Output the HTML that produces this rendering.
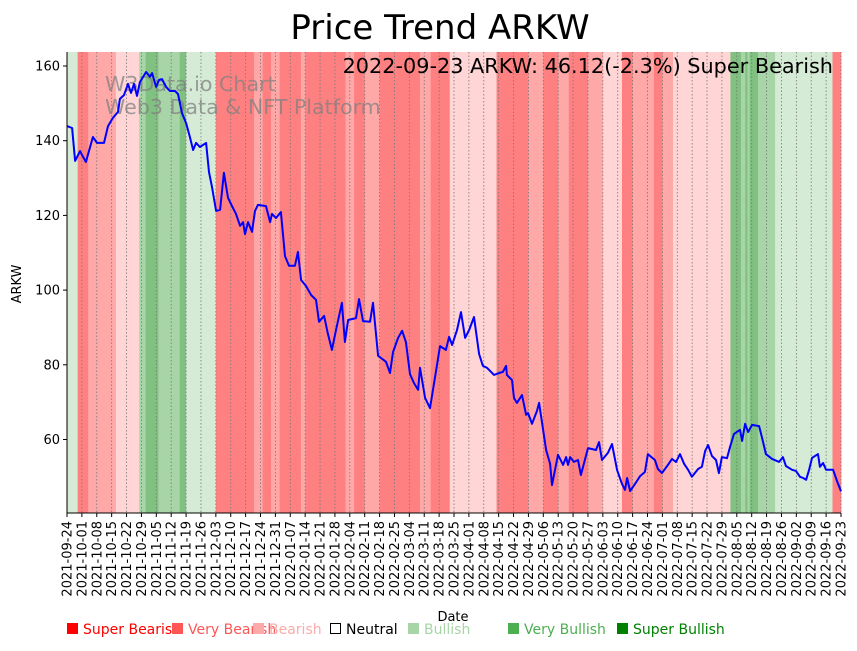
<!DOCTYPE html>
<html><head><meta charset="utf-8"><style>
body{margin:0;background:#fff;font-family:"Liberation Sans","DejaVu Sans",sans-serif}
svg text{font-family:"DejaVu Sans","Liberation Sans",sans-serif}
</style></head><body>
<svg id="chart" width="857" height="646" xmlns="http://www.w3.org/2000/svg">
<text x="440" y="39" font-size="34" text-anchor="middle">Price Trend ARKW</text>
<g id="bands"></g>
<g id="grid"></g>
<g fill="#808080" fill-opacity="0.75" font-size="20.6">
<text x="105" y="91">W3Data.io Chart</text><text x="105" y="114">Web3 Data &amp; NFT Platform</text></g>
<text x="833" y="73" font-size="20.8" text-anchor="end">2022-09-23 ARKW: 46.12(-2.3%) Super Bearish</text>
<path id="line" fill="none" stroke="#0000ff" stroke-width="2" stroke-linejoin="round"/>
<g id="yaxis"></g>
<g id="xaxis"></g>
<text transform="translate(21,284) rotate(-90)" font-size="13" text-anchor="middle">ARKW</text>
<text x="453" y="621" font-size="13" text-anchor="middle">Date</text>
<g id="legend"></g>
</svg>
<script>
const days=[0,2.4,3.8,6.1,8.9,12.2,14.1,17.4,19.3,21.6,24,24.9,26.8,28.7,30.1,31.5,32.9,34.3,37.2,39,40,41.9,43.3,44.7,46.6,48.4,50.8,52.2,54.1,56,57.8,59.3,60.7,62.5,65.4,66.8,68.2,70.1,72,73.8,75.7,77.6,79.5,81.4,82.8,83.7,85.1,87,88.4,89.8,93.6,95.5,96.4,98.3,100.6,102.5,104.4,107.2,108.6,110.1,112.4,114.8,117.1,118.5,120.9,122.7,124.6,126.5,129.3,130.7,132.2,135.9,137.3,139.2,142.5,143.9,146.3,150,151.9,153.3,155.7,157.6,159.4,161.3,163.2,165.1,166,168.4,170.7,173.5,175.4,178.2,179.7,181.1,183.4,185.3,187.2,189.1,191.4,193.8,195.6,197.5,200.8,203.2,205,206.5,206.9,209.3,210.2,211.6,214,215.9,216.8,218.7,221,222,223.9,225.3,227.2,228.1,230.9,233.3,234.7,235.6,236.6,238.4,240.3,241.7,245,248.8,250.2,251.6,254.4,256.3,258.7,261,262.4,263.4,264.8,267.1,269.5,271.8,273.2,276.5,277.9,279.8,282.6,284.5,286.4,288.3,290.2,292.1,293.9,296.8,298.6,300.1,301.5,303.3,305.2,306.6,308,310.4,311.8,313.7,316.5,317.5,318.9,320.3,322.2,325.5,326.9,328.7,331.6,334.9,336.7,338.1,341,342.8,344.7,346.2,347.6,349,350.4,353.2,354.1,355.6,357,360.3,362.1,364];
const prices=[143.9,143.4,134.6,137.2,134.3,141,139.4,139.4,143.9,146.1,147.7,151.2,152.2,155.2,152.8,155.2,152,155.7,158.4,157.1,158.1,154.4,156.3,156.5,154.4,153.3,153.3,152.5,147.4,144.7,141,137.5,139.4,138.3,139.4,131.6,127.6,121.2,121.5,131.4,124.7,122.5,120.4,117.2,118.2,115,118.2,115.6,121.2,122.8,122.5,118.2,120.4,119.3,120.9,109.1,106.5,106.5,110.2,102.7,101.1,98.7,97.4,91.5,93.1,88.3,84,89.3,96.6,86.1,92,92.5,97.6,91.7,91.5,96.6,82.4,80.8,77.8,83.4,87.2,89.1,86.1,77.5,75.1,73.3,79.2,71.1,68.4,78.1,85,84,87.5,85.3,89.3,94.1,87.2,89.3,92.8,82.9,79.7,79.2,77.3,77.8,78.1,79.7,77.3,75.9,71.1,69.8,71.9,66.6,67.1,64.2,67.6,69.8,62.6,57.2,53.5,47.8,55.9,53.2,55.3,53.2,55.3,54,54.5,50.5,57.7,57.2,59.3,54.5,56.4,58.8,51.8,48.1,46.5,49.7,46.2,48.1,50.2,51.3,56.1,54.5,52.1,51,53.2,54.8,54,56.1,53.5,51.9,50,52.1,52.7,56.9,58.5,55.6,54.5,51,55.3,55,58,61.5,62.6,59.6,64.2,62,63.9,63.6,60.4,56.1,54.8,54,55.3,52.9,51.9,51.6,50,49.7,49.2,51.9,55.1,56.1,52.7,53.7,51.9,51.9,48.9,46.1];
const bandStarts=[0,5,10,23,34,37,43,53,56,70,88,92,96,100,110,112,131,135,140,147,166,171,180,202,217,224,231,236,245,252,261,266,276,280,285,312,317,319,320,321,325,333,360];
const bandLevels=[1,-3,-2,-1,2,3,2,3,1,-3,-2,-3,-2,-3,-2,-3,-2,-3,-2,-3,-2,-3,-1,-3,-2,-3,-2,-3,-2,-1,-3,-2,-3,-2,-1,3,2,3,2,3,2,1,-3];
const yTicks=[60,80,100,120,140,160];
const legendLabels=["Super Bearish","Very Bearish","Bearish","Neutral","Bullish","Very Bullish","Super Bullish"];
const totalDays=364, baseDate=new Date(Date.UTC(2021,8,24));
const X0=67,X1=841,Y0=52,Y1=513;
const x=d=>X0+d*(X1-X0)/totalDays;
const y=v=>66+(160-v)*3.735;
const NS="http://www.w3.org/2000/svg";
function mk(tag,attrs,parent){const e=document.createElementNS(NS,tag);for(const k in attrs)e.setAttribute(k,attrs[k]);parent.appendChild(e);return e;}
const bandColor={"-3":"#ff8080","-2":"#ffa8a8","-1":"#ffd5d5","0":"#ffffff","1":"#d5ebd5","2":"#a8d5a8","3":"#80c080"};
const bands=document.getElementById('bands');
bandStarts.forEach((s,i)=>{const e=i+1<bandStarts.length?bandStarts[i+1]:totalDays;
 const r=mk('rect',{x:x(s),y:Y0,width:x(e)-x(s)+0.3,height:Y1-Y0,fill:bandColor[bandLevels[i]]},bands);
 
 });
const grid=document.getElementById('grid'),xa=document.getElementById('xaxis');
for(let d=0;d<=totalDays;d+=7){const px=x(d);
 const g=mk('line',{x1:px,x2:px,y1:Y0,y2:Y1,stroke:'#777',"stroke-width":0.8,"stroke-dasharray":"1.5,2"},grid);
 
 
 mk('line',{x1:px,x2:px,y1:Y1,y2:Y1+4,stroke:'#000'},xa);
 const dt=new Date(baseDate.getTime()+d*86400000);
 const lab=dt.toISOString().slice(0,10);
 const t=mk('text',{transform:`translate(${px+4.5},${Y1+8}) rotate(-90)`,"font-size":13,"text-anchor":"end"},xa);
 t.textContent=lab;
 
 }
mk('line',{x1:X0,x2:X1,y1:Y1,y2:Y1,stroke:'#000'},xa);
const ya=document.getElementById('yaxis');
mk('line',{x1:X0,x2:X0,y1:Y0,y2:Y1,stroke:'#000'},ya);
yTicks.forEach(v=>{mk('line',{x1:X0-4,x2:X0,y1:y(v),y2:y(v),stroke:'#000'},ya);
 const t=mk('text',{x:X0-7,y:y(v)+4.5,"font-size":13,"text-anchor":"end"},ya);t.textContent=v;
 
 });
document.getElementById('line').setAttribute('d',days.map((d,i)=>(i?'L':'M')+x(d).toFixed(1)+','+y(prices[i]).toFixed(1)).join(''));
const lg=document.getElementById('legend');
const lgX=[67,172,253,330,408,508,617];
const lgC=["#ff0000","#ff5555","#ffaaaa","#000000","#a8d5a8","#4caf50","#008000"];
legendLabels.forEach((l,i)=>{const g=mk('g',{},lg);
 
 
 if(i===3)mk('rect',{x:lgX[i]+0.5,y:623.5,width:10,height:10,fill:'#fff',stroke:'#000'},g);
 else mk('rect',{x:lgX[i],y:623,width:11,height:11,fill:lgC[i]},g);
 const t=mk('text',{x:lgX[i]+16,y:634,"font-size":14,fill:lgC[i]},g);t.textContent=l;});
</script>
</body></html>
